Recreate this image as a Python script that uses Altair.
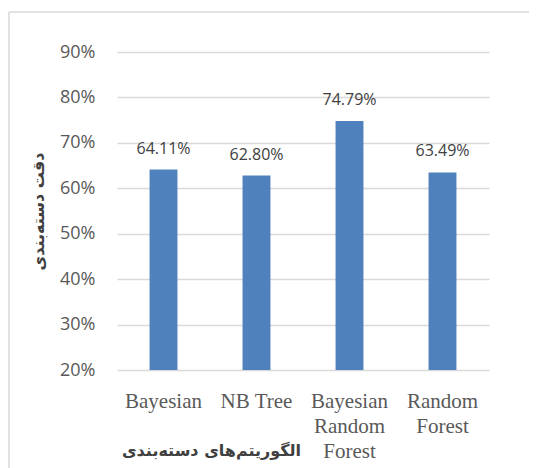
import altair as alt
import pandas as pd

categories = ["Bayesian", "NB Tree", "Bayesian\nRandom\nForest", "Random\nForest"]
accuracy = [0.6411, 0.6280, 0.7479, 0.6349]
labels = ["64.11%", "62.80%", "74.79%", "63.49%"]
y_ticks = [0.2, 0.3, 0.4, 0.5, 0.6, 0.7, 0.8, 0.9]

df = pd.DataFrame({"cat": categories, "acc": accuracy, "lab": labels})

x_enc = alt.X(
    "cat:N",
    sort=categories,
    scale=alt.Scale(paddingInner=0.7, paddingOuter=0.35),
    axis=alt.Axis(
        title="الگوریتم‌های دسته‌بندی",
        labelExpr="split(datum.label, '\\n')",
        labelAngle=0,
        labelFont="Liberation Serif",
        labelFontSize=21,
        labelColor="#595959",
        labelLineHeight=25,
        labelPadding=20,
        labelBaseline="top",
        ticks=False,
        domain=False,
        grid=False,
        titleFont="DejaVu Sans",
        titleFontWeight="bold",
        titleFontSize=16,
        titleColor="#404040",
        titleX=94,
        titleY=80,
        titleAlign="center",
        titleBaseline="middle",
    ),
)

y_enc = alt.Y(
    "acc:Q",
    scale=alt.Scale(domain=[0.2, 0.9], zero=False, nice=False),
    axis=alt.Axis(
        title="دقت دسته‌بندی",
        values=y_ticks,
        format=".0%",
        labelFont="Open Sans",
        labelFontSize=18,
        labelColor="#595959",
        labelPadding=22,
        ticks=False,
        domain=False,
        grid=True,
        gridColor="#d9d9d9",
        gridWidth=1.5,
        titleFont="DejaVu Sans",
        titleFontWeight="bold",
        titleFontSize=16,
        titleColor="#404040",
        titleX=-79,
        titleY=159,
        titleAngle=-90,
        titleAlign="center",
        titleBaseline="middle",
    ),
)

base = alt.Chart(df)

bars = base.mark_bar(color="#4F81BD").encode(
    x=x_enc,
    y=y_enc,
    y2=alt.datum(0.2),
)

text = base.mark_text(
    font="Open Sans", fontSize=16, color="#404040", dy=-16, baseline="alphabetic"
).encode(
    x=alt.X("cat:N", sort=categories),
    y="acc:Q",
    text="lab:N",
)

frame_df = pd.DataFrame({"k": [0]})
frame_left = alt.Chart(frame_df).mark_rule(color="#d9d9d9", strokeWidth=1.5).encode(
    x=alt.value(-108), y=alt.value(-40), y2=alt.value(430)
)
frame_top = alt.Chart(frame_df).mark_rule(color="#d9d9d9", strokeWidth=1.5).encode(
    x=alt.value(-108), x2=alt.value(430), y=alt.value(-40)
)

chart = (
    alt.layer(bars, text, frame_left, frame_top)
    .properties(
        width=372,
        height=318,
        autosize=alt.AutoSizeParams(type="none"),
        padding={"left": 109, "top": 44, "right": 40, "bottom": 100},
    )
    .configure(background="white")
    .configure_view(stroke=None)
)

chart.save("out.html", embed_options={"renderer": "svg", "actions": False})
